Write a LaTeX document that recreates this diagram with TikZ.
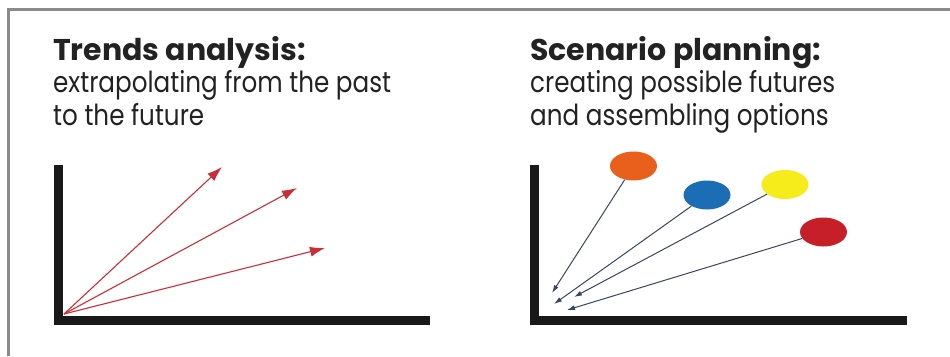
\documentclass[tikz,border=0pt]{standalone}
\usepackage{fontspec}
\setmainfont{Poppins}
\newfontfamily\subfont[FakeStretch=0.85]{Poppins}
\usetikzlibrary{arrows.meta,shapes.geometric}
\definecolor{framegray}{HTML}{8A8A8A}
\definecolor{txt}{HTML}{222222}
\definecolor{trendred}{HTML}{CC2E35}
\definecolor{scenline}{HTML}{3A4560}
\definecolor{corange}{HTML}{E8601C}
\definecolor{cblue}{HTML}{1B6DB5}
\definecolor{cyellow}{HTML}{F6EC1C}
\definecolor{cred}{HTML}{C61F2A}
\tikzset{
  titletext/.style={anchor=base west,inner sep=0pt,text=txt,font=\fontsize{30}{33}\selectfont\bfseries},
  subtext/.style={anchor=base west,inner sep=0pt,text=txt,font=\subfont\fontsize{29}{33}\selectfont},
  axis/.style={line width=9pt,black!90,line join=miter,line cap=butt},
  trend/.style={trendred,line width=1.1pt,-{Latex[length=15pt,width=10pt]}},
  scen/.style={scenline,line width=1pt,-{Latex[length=8pt,width=5pt]}},
  blob/.style={ellipse,minimum width=47pt,minimum height=29pt,inner sep=0pt,draw=none},
}
\begin{document}
\begin{tikzpicture}[x=1pt,y=-1pt]
\useasboundingbox (0,0) rectangle (950,356);
\fill[white] (0,0) rectangle (950,356);
% frame
\draw[framegray,line width=3pt] (8,356) -- (8,9.5) -- (950,9.5);
% left panel text
\node[titletext] (t1) at (53,60) {Trends analysis:};
\node[subtext] (s1a) at (53,92) {extrapolating from the past};
\node[subtext] (s1b) at (53,125) {to the future};
% right panel text
\node[titletext] (t2) at (530,60) {Scenario planning:};
\node[subtext] (s2a) at (530,92) {creating possible futures};
\node[subtext] (s2b) at (530,125) {and assembling options};
% left axes
\draw[axis] (58.5,165) -- (58.5,320) -- (430,320);
\coordinate (o1) at (64,314);
\coordinate (a1) at (222,167);
\coordinate (a2) at (297,188);
\coordinate (a3) at (325,248);
\draw[trend] (o1) -- (a1);
\draw[trend] (o1) -- (a2);
\draw[trend] (o1) -- (a3);
% right axes
\draw[axis] (534.5,165) -- (534.5,320) -- (907,320);
\node[blob,fill=corange] (bo) at (633.5,166) {};
\node[blob,fill=cblue] (bb) at (707,195) {};
\node[blob,fill=cyellow] (by) at (785,184.5) {};
\node[blob,fill=cred] (br) at (823.5,232) {};
\coordinate (p1) at (552,293);
\coordinate (p2) at (554,304);
\coordinate (p3) at (574,297);
\coordinate (p4) at (567,310);
\draw[scen] (bo) -- (p1);
\draw[scen] (bb) -- (p2);
\draw[scen] (by) -- (p3);
\draw[scen] (br) -- (p4);
\end{tikzpicture}
\end{document}
